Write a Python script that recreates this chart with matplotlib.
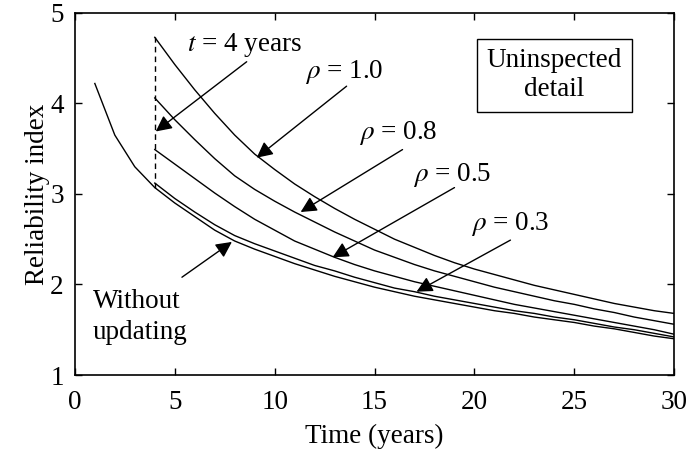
import numpy as np
import matplotlib
matplotlib.use('Agg')
import matplotlib.pyplot as plt

plt.rcParams['font.family'] = ['Liberation Serif', 'DejaVu Serif']
plt.rcParams['mathtext.fontset'] = 'stix'

# time axis (years)
t_base = np.arange(1, 31)
t_upd = np.arange(4, 31)

# reliability index without updating
beta_base = [4.22, 3.65, 3.30, 3.07, 2.90, 2.75, 2.60, 2.48, 2.39, 2.31,
             2.23, 2.16, 2.09, 2.03, 1.97, 1.92, 1.87, 1.83, 1.79, 1.75,
             1.71, 1.68, 1.64, 1.61, 1.58, 1.54, 1.51, 1.47, 1.43, 1.40]

# updated reliability index after inspection at t = 4 years
beta_r03 = [3.12, 2.95, 2.80, 2.66, 2.54, 2.45, 2.37, 2.29, 2.21, 2.15,
            2.08, 2.02, 1.96, 1.92, 1.87, 1.83, 1.79, 1.75, 1.71, 1.68,
            1.64, 1.61, 1.57, 1.53, 1.50, 1.46, 1.42]
beta_r05 = [3.49, 3.33, 3.17, 3.01, 2.86, 2.72, 2.60, 2.48, 2.39, 2.30,
            2.22, 2.15, 2.09, 2.03, 1.98, 1.93, 1.88, 1.83, 1.78, 1.74,
            1.70, 1.66, 1.62, 1.58, 1.54, 1.50, 1.45]
beta_r08 = [4.06, 3.82, 3.60, 3.39, 3.20, 3.05, 2.92, 2.80, 2.69, 2.58,
            2.48, 2.38, 2.30, 2.22, 2.15, 2.09, 2.03, 1.97, 1.92, 1.87,
            1.82, 1.78, 1.73, 1.69, 1.64, 1.60, 1.56]
beta_r10 = [4.73, 4.43, 4.15, 3.89, 3.65, 3.44, 3.27, 3.11, 2.97, 2.84,
            2.72, 2.61, 2.50, 2.41, 2.32, 2.24, 2.17, 2.11, 2.05, 1.99,
            1.94, 1.89, 1.84, 1.79, 1.75, 1.71, 1.68]

fs = 19.5
fig = plt.figure(figsize=(6.93, 4.59), dpi=100)
ax = fig.add_axes([0.108, 0.183, 0.865, 0.789])

ax.plot(t_base, beta_base, 'k-', lw=1)
for b in [beta_r03, beta_r05, beta_r08, beta_r10]:
    ax.plot(t_upd, b, 'k-', lw=1)
# inspection time
ax.plot([4, 4], [beta_base[3], beta_r10[0]], 'k--', lw=1, dashes=(4, 3))

ax.set_xlim(0, 30)
ax.set_ylim(1, 5)
ax.set_xticks([0, 5, 10, 15, 20, 25, 30])
ax.set_yticks([1, 2, 3, 4, 5])
ax.tick_params(direction='in', top=True, right=True, length=5, width=1,
               labelsize=fs)
ax.tick_params(axis='x', pad=11)
ax.tick_params(axis='y', pad=8)
for s in ax.spines.values():
    s.set_linewidth(1.2)
ax.set_xlabel('Time (years)', fontsize=fs, labelpad=6)
ax.set_ylabel('Reliability index', fontsize=fs, labelpad=0)

ap = dict(arrowstyle='-|>', mutation_scale=24, fc='k', ec='k', lw=1,
          shrinkA=0, shrinkB=0)

ax.text(8.5, 4.65, r'$t$ = 4 years', fontsize=fs, ha='center', va='center')
ax.annotate('', xy=(4.05, 3.69), xytext=(8.6, 4.46), arrowprops=ap)

ax.text(13.5, 4.35, r'$\rho$ = 1.0', fontsize=fs, ha='center', va='center')
ax.annotate('', xy=(9.1, 3.40), xytext=(13.6, 4.19), arrowprops=ap)

ax.text(16.2, 3.67, r'$\rho$ = 0.8', fontsize=fs, ha='center', va='center')
ax.annotate('', xy=(11.3, 2.80), xytext=(16.4, 3.49), arrowprops=ap)

ax.text(18.9, 3.21, r'$\rho$ = 0.5', fontsize=fs, ha='center', va='center')
ax.annotate('', xy=(12.9, 2.30), xytext=(19.0, 3.07), arrowprops=ap)

ax.text(21.8, 2.67, r'$\rho$ = 0.3', fontsize=fs, ha='center', va='center')
ax.annotate('', xy=(17.1, 1.92), xytext=(21.8, 2.49), arrowprops=ap)

ax.text(0.9, 1.64, 'Without\nupdating', fontsize=fs, ha='left', va='center',
        linespacing=1.3)
ax.annotate('', xy=(7.86, 2.47), xytext=(5.36, 2.08), arrowprops=ap)

ax.text(24.0, 4.31, 'Uninspected\ndetail', fontsize=fs, ha='center',
        va='center', linespacing=1.2,
        bbox=dict(boxstyle='square,pad=0.35', fc='white', ec='k', lw=1))

fig.savefig('out.png', dpi=100)
